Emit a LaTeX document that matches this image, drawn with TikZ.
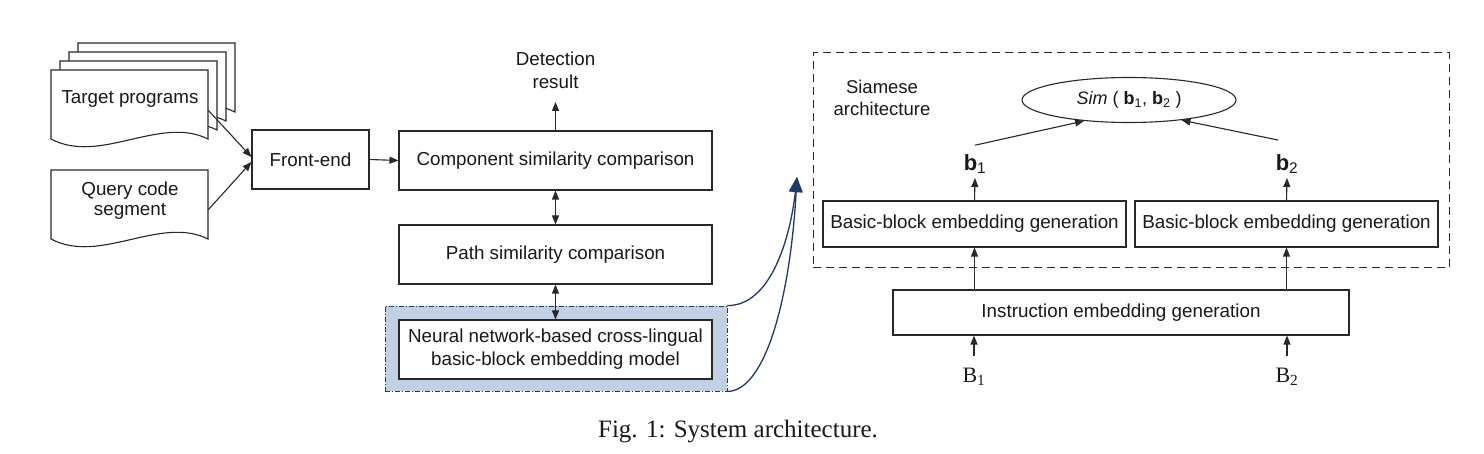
\documentclass[tikz,border=0pt]{standalone}
\usepackage{fontspec}
\setmainfont{Liberation Sans}
\newfontfamily\timesfont{Liberation Serif}
\usetikzlibrary{arrows.meta,shapes.geometric}
\definecolor{lineblue}{RGB}{31,58,100}
\definecolor{fillblue}{RGB}{194,208,227}
\definecolor{ink}{RGB}{40,40,40}
\begin{document}
\begin{tikzpicture}[x=1pt,y=-1pt,
  every node/.style={font=\fontsize{18.8}{23}\selectfont, text=black!90},
  box/.style={draw=ink, line width=1.1pt, fill=white, align=center, inner sep=0pt},
  arr/.style={draw=ink, line width=1.1pt, -{Triangle[length=9pt,width=7pt]}},
  darr/.style={draw=ink, line width=1.1pt, {Triangle[length=9pt,width=7pt]}-{Triangle[length=9pt,width=7pt]}},
  page/.style={draw=ink, line width=1.1pt, fill=white},
  bluearr/.style={draw=lineblue, line width=1.3pt, -{Triangle[length=15pt,width=13pt]}},
  docpg/.pic={\path[page] (0,0) -- (157,0) -- (157,69) .. controls (109,45) and (49,95) .. (0,69) -- cycle;}
]
\useasboundingbox (0,0) rectangle (1484,454);
\fill[white] (0,0) rectangle (1484,454);

% document stacks
\pic at (78,43) {docpg};
\pic at (69,52) {docpg};
\pic at (60,61) {docpg};
\pic at (51,70) {docpg};
\node (tp) at (130,99) {Target programs};
\pic at (51,170) {docpg};
\node[align=center, font=\fontsize{18.8}{19.5}\selectfont] (qc) at (130,200.5) {Query code\\segment};
\coordinate (tpo) at (208,110);
\coordinate (qco) at (208,210);

% front-end
\node[box, minimum width=117pt, minimum height=59pt] (fe) at (310.5,159.5) {Front-end};
\draw[arr] (tpo) -- ([yshift=2.5]fe.west);
\draw[arr] (qco) -- ([yshift=-2.5]fe.west);

% middle column
\node[box, minimum width=313pt, minimum height=59pt] (comp) at (555.5,160.5) {Component similarity comparison};
\node[box, minimum width=313pt, minimum height=59pt] (path) at (555.5,254.5) {Path similarity comparison};
\node[draw=lineblue, fill=fillblue, line width=0.9pt, dash pattern=on 5pt off 2pt on 1pt off 2pt, minimum width=342pt, minimum height=85pt, inner sep=0pt] (hl) at (556,348.5) {};
\node[box, minimum width=313pt, minimum height=59pt] (nn) at (555.5,349.5) {Neural network-based cross-lingual\\basic-block embedding model};
\node[anchor=south, align=center, inner sep=13pt] (det) at (555.5,102) {Detection\\result};

\draw[arr] (fe.east) -- (comp.west);
\draw[arr] (comp.north) -- (det.south);
\draw[darr] (comp.south) -- (path.north);
\draw[darr] (path.south) -- (nn.north);

% blue curved arrows
\coordinate (tip) at (797,177);
\draw[bluearr] (hl.north east) .. controls (770,306) and (790,240) .. (tip);
\draw[bluearr] (hl.south east) .. controls (765,391) and (790,300) .. (tip);

% Siamese part
\node[draw=ink, line width=1pt, dash pattern=on 8pt off 5pt, minimum width=636pt, minimum height=215pt, inner sep=0pt] (siam) at (1131,160.5) {};
\node[align=center, font=\fontsize{18.5}{22}\selectfont] (siamlbl) at (882,98) {Siamese\\architecture};
\node[draw=ink, line width=1.1pt, ellipse, minimum width=214pt, minimum height=45pt, inner sep=0pt, font=\fontsize{18}{20}\selectfont] (sim) at (1129,100) {\textit{Sim} ( \textbf{b}\textsubscript{1}, \textbf{b}\textsubscript{2} )};

\node[box, minimum width=303pt, minimum height=46pt] (bb1) at (974.5,224) {Basic-block embedding generation};
\node[box, minimum width=303pt, minimum height=46pt] (bb2) at (1286.5,224) {Basic-block embedding generation};
\node[anchor=south, inner sep=4pt, font=\fontsize{22}{24}\selectfont] (b1) at (975,178) {\textbf{b}\textsubscript{1}};
\node[anchor=south, inner sep=4pt, font=\fontsize{22}{24}\selectfont] (b2) at (1287,178) {\textbf{b}\textsubscript{2}};

\draw[arr] (bb1.north) -- (b1.south);
\draw[arr] (bb2.north) -- (b2.south);
\draw[arr] ([yshift=5]b1.north) -- (sim.205);
\draw[arr] ([xshift=-9,yshift=10]b2.north) -- (sim.-21);

\node[box, minimum width=456pt, minimum height=45pt] (ie) at (1121,312.5) {Instruction embedding generation};
\draw[arr] (ie.north -| bb1.south) -- (bb1.south);
\draw[arr] (ie.north -| bb2.south) -- (bb2.south);

\node[font=\timesfont\fontsize{22}{24}\selectfont, inner sep=3pt] (B1) at (974,377) {B\textsubscript{1}};
\node[font=\timesfont\fontsize{22}{24}\selectfont, inner sep=3pt] (B2) at (1287,377) {B\textsubscript{2}};
\draw[arr] ([yshift=9]B1.north) -- (ie.south -| B1.north);
\draw[arr] ([yshift=9]B2.north) -- (ie.south -| B2.north);

% caption
\node[font=\timesfont\fontsize{25}{30}\selectfont] (cap) at (738,432) {Fig. 1: System architecture.};
\end{tikzpicture}
\end{document}
